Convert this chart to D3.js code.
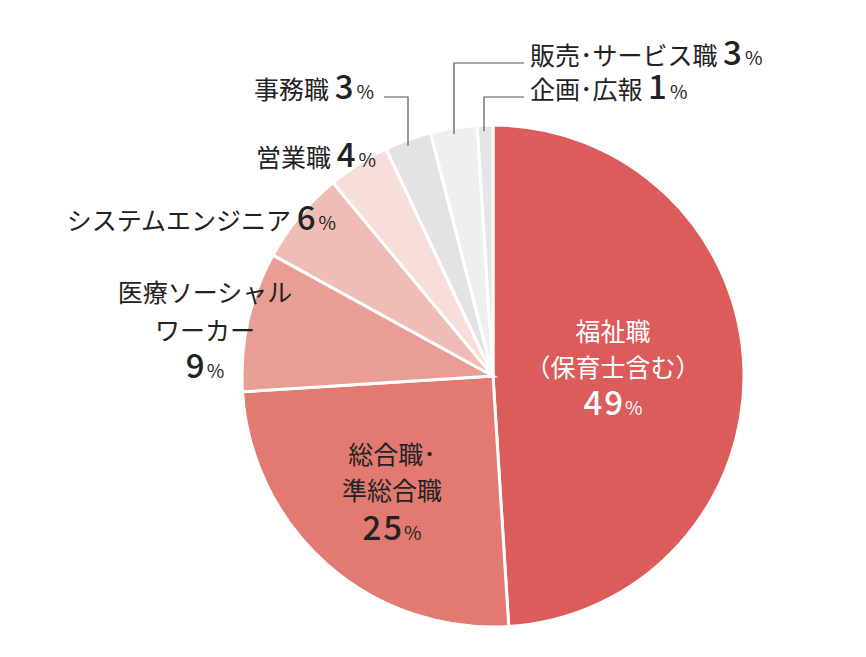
<!DOCTYPE html>
<html><head><meta charset="utf-8">
<script src="https://cdn.jsdelivr.net/npm/d3@7/dist/d3.min.js"></script>
<style>body{margin:0;background:#fff}text{font-family:"Noto Sans CJK JP",sans-serif}</style>
</head><body><svg id="c" width="866" height="657"></svg>
<script>
const categories=["福祉職","総合職･準総合職","医療ソーシャルワーカー","システムエンジニア","営業職","事務職","販売･サービス職","企画･広報"];
const values=[49,25,9,6,4,3,3,1];
const colors=["#dc5b5b","#e27a72","#e89d95","#efbdb5","#f8ddd9","#e3e3e3","#efefef","#e5e5e5"];
const svg=d3.select("#c");
const cx=493,cy=376,r=251;
const pie=d3.pie().sort(null).value(d=>d)(values);
const arc=d3.arc().innerRadius(0).outerRadius(r);
const g=svg.append("g").attr("transform",`translate(${cx},${cy})`);
g.selectAll("path").data(pie).join("path").attr("d",arc)
 .attr("fill",(d,i)=>colors[i]).attr("stroke","#fff").attr("stroke-width",3);
const labels=[
 {lines:["福祉職","（保育士含む）"],x:613,y:[341,377],vy:415,fill:"#fff"},
 {lines:["総合職･","準総合職"],x:392,y:[464,500],vy:540,fill:"#222"},
 {lines:["医療ソーシャル","ワーカー"],x:205,y:[302,340],vy:378,fill:"#222"},
 {inline:true,x:336,y:230,anchor:"end"},
 {inline:true,x:376,y:167,anchor:"end"},
 {inline:true,x:374,y:99,anchor:"end"},
 {inline:true,x:530,y:65,anchor:"start"},
 {inline:true,x:530,y:99,anchor:"start"}
];
labels.forEach((L,i)=>{
 if(L.inline){
  const t=svg.append("text").attr("x",L.x).attr("y",L.y).attr("text-anchor",L.anchor).attr("fill","#222");
  t.append("tspan").attr("font-size",25).text(categories[i]+" ");
  t.append("tspan").attr("font-size",33).attr("font-weight",500).text(values[i]);
  t.append("tspan").attr("font-size",19).attr("dx",3).text("%");
 } else {
  L.lines.forEach((s,j)=>svg.append("text").attr("x",L.x).attr("y",L.y[j]).attr("text-anchor","middle").attr("font-size",25).attr("fill",L.fill).text(s));
  const t=svg.append("text").attr("x",L.x).attr("y",L.vy).attr("text-anchor","middle").attr("fill",L.fill);
  t.append("tspan").attr("font-size",33).attr("font-weight",500).attr("letter-spacing",2).text(values[i]);
  t.append("tspan").attr("font-size",19).text("%");
 }
});
function leader(i,x0,y0,xv){
  const yEnd=cy-Math.sqrt(r*r-(xv-cx)*(xv-cx))+6;
  svg.append("path").attr("d",`M${x0},${y0}H${xv}V${yEnd}`).attr("fill","none").attr("stroke","#555").attr("stroke-width",1.2);
}
leader(5,384,97,408);
leader(6,524,63,454);
leader(7,524,97,484);
</script></body></html>
